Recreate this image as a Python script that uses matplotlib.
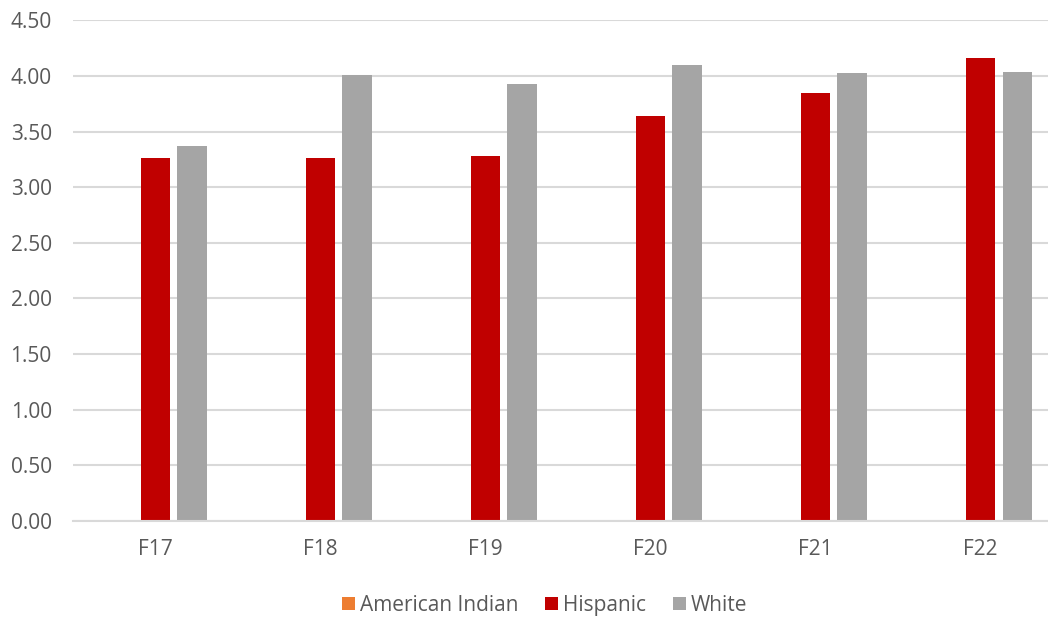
import numpy as np
import matplotlib.pyplot as plt

# fiscal years and average values by group
years = ['F17', 'F18', 'F19', 'F20', 'F21', 'F22']
american_indian = [0, 0, 0, 0, 0, 0]
hispanic = [3.26, 3.26, 3.28, 3.64, 3.85, 4.16]
white = [3.37, 4.01, 3.93, 4.10, 4.03, 4.04]

plt.rcParams['font.family'] = ['Open Sans', 'DejaVu Sans']

fig = plt.figure(figsize=(10.48, 6.18), dpi=100)
# plot area runs a little past the right edge of the figure
ax = fig.add_axes([0.0692, 0.157, 0.9447, 0.81])

x = np.arange(len(years))
w = 0.176
step = 0.224
ax.bar(x - step, american_indian, w, color='#ED7D31', label='American Indian')
ax.bar(x, hispanic, w, color='#C00000', label='Hispanic')
ax.bar(x + step, white, w, color='#A5A5A5', label='White')

ax.set_xlim(-0.5, len(years) - 0.5)
ax.set_ylim(0, 4.5)
ax.set_yticks(np.arange(0, 4.51, 0.5))
ax.set_yticklabels(['{:.2f}'.format(v) for v in np.arange(0, 4.51, 0.5)])
ax.set_xticks(x)
ax.set_xticklabels(years)

ax.grid(axis='y', color='#D9D9D9', linewidth=1.5)
ax.set_axisbelow(True)
for s in ['top', 'right', 'left']:
    ax.spines[s].set_visible(False)
ax.spines['bottom'].set_color('#D9D9D9')
ax.spines['bottom'].set_linewidth(1.5)
ax.tick_params(axis='both', length=0, labelsize=15, colors='#595959')
ax.tick_params(axis='x', pad=13)
ax.tick_params(axis='y', pad=15)

ax.legend(loc='center', bbox_to_anchor=(0.477, -0.168), ncol=3, frameon=False,
          fontsize=15, labelcolor='#595959', handlelength=0.6, handleheight=0.6,
          handletextpad=0.25, columnspacing=1.3)

fig.savefig('out.png', dpi=100)
